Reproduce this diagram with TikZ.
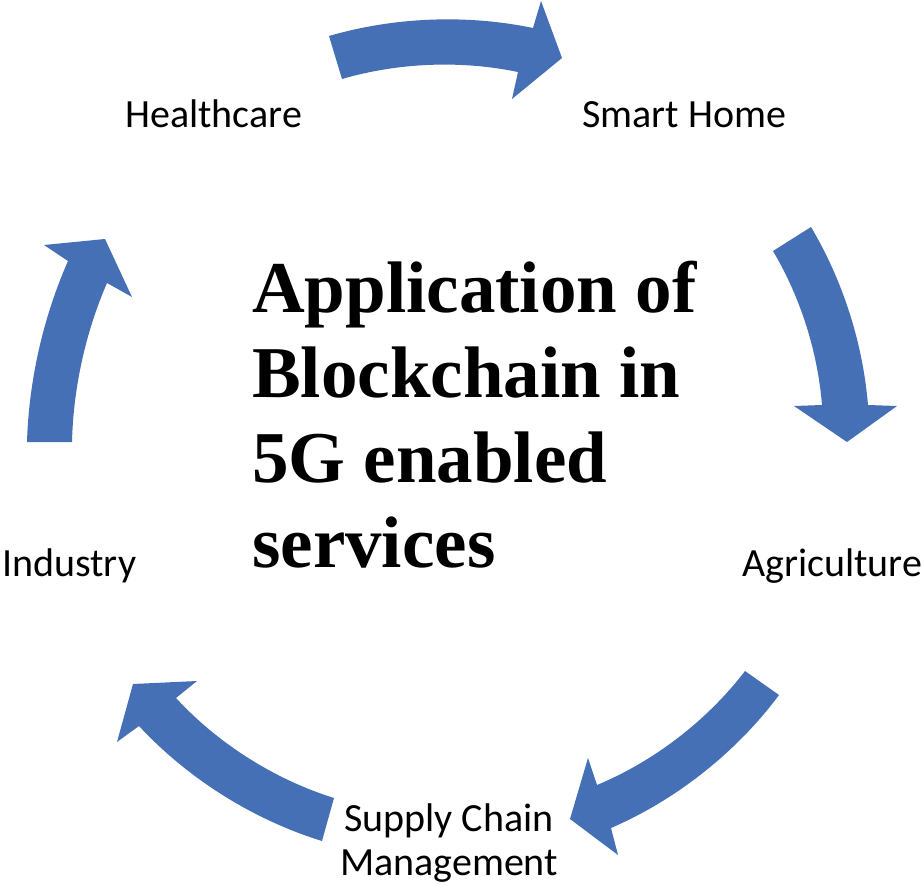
\documentclass[tikz,border=0pt]{standalone}
\usepackage{fontspec}
\setmainfont{Carlito}
\newfontfamily\titlefont{Liberation Serif}
\definecolor{arrowblue}{RGB}{70,112,181}
\begin{document}
\begin{tikzpicture}[x=0.75pt,y=0.75pt,
  blockarrow/.style={fill=arrowblue, draw=none},
  lbl/.style={inner sep=0pt, font=\fontsize{30}{33}\selectfont},
  ttl/.style={inner sep=0pt, align=left, font=\titlefont\bfseries\fontsize{54.75}{63.75}\selectfont}]
\useasboundingbox (0,0) rectangle (922,-885);

% block arrows (clockwise cycle)
\fill[blockarrow] (329,-36) to[bend left=14,looseness=0.85] (533,-28) -- (541,-1) -- (562,-58) -- (512,-99) -- (518,-72) to[bend right=14,looseness=0.85] (342,-79) -- cycle;
\fill[blockarrow] (811,-227) to[bend left=13,looseness=0.85] (868,-405) -- (897,-406) -- (847,-442) -- (794,-406) -- (822,-405) to[bend right=13,looseness=0.85] (773,-251) -- cycle;
\fill[blockarrow] (779,-695) to[bend left=15,looseness=0.85] (611,-828) -- (618,-855) -- (570,-819) -- (588,-758) -- (597,-785) to[bend right=15,looseness=0.85] (745,-671) -- cycle;
\fill[blockarrow] (322,-841) to[bend left=15,looseness=0.85] (139,-726) -- (117,-742) -- (133,-684) -- (197,-681) -- (176,-698) to[bend right=15,looseness=0.85] (334,-798) -- cycle;
\fill[blockarrow] (27,-442) to[bend left=11,looseness=0.85] (68,-261) -- (44,-245) -- (105,-239) -- (132,-297) -- (107,-283) to[bend right=11,looseness=0.85] (72,-442) -- cycle;

% labels
\node[lbl, anchor=base west] (health) at (125,-127) {Healthcare};
\node[lbl, anchor=base west] (smart) at (582,-127) {Smart Home};
\node[lbl, anchor=base west] (indus) at (2,-576) {Industry};
\node[lbl, anchor=base west] (agri) at (742,-576) {Agriculture};
\node[lbl, anchor=base, align=center] (scm) at (449,-875) {Supply Chain\\Management};

% title (base anchor = last line)
\node[ttl, anchor=base west] (title) at (252,-567) {Application of\\Blockchain in\\5G enabled\\services};
\end{tikzpicture}
\end{document}
